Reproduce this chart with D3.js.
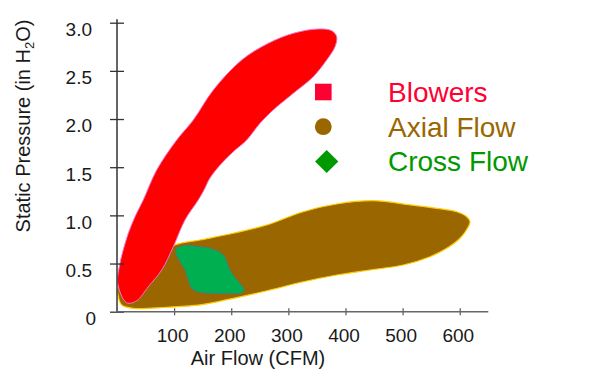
<!DOCTYPE html>
<html>
<head>
<meta charset="utf-8">
<script src="https://cdn.jsdelivr.net/npm/d3@7"></script>
<style>
    body { margin: 0; background: #fff; }
    text { font-family: "Liberation Sans", Arial, sans-serif; }
</style>
</head>
<body>
<svg id="chart" width="600" height="382"></svg>
<script>
// operating regions, [air flow CFM, static pressure inH2O]
const BLOWERS_OUTLINE = [
    [384.6, 2.855], [381.7, 2.751], [367.1, 2.613], [343.7, 2.440], [308.6, 2.267],
    [273.6, 2.094], [250.4, 1.956], [227.1, 1.782], [203.1, 1.658], [183.8, 1.544],
    [162.8, 1.388], [152.3, 1.263], [142.3, 1.160], [119.0, 0.952], [98.6, 0.675],
    [78.3, 0.433], [54.8, 0.260], [34.5, 0.114], [17.0, 0.093], [1.2, 0.295],
    [5.3, 0.502], [9.3, 0.606], [19.8, 0.814], [31.5, 0.986], [46.0, 1.160],
    [69.5, 1.471], [104.5, 1.782], [133.6, 1.990], [168.6, 2.301], [218.3, 2.613],
    [264.9, 2.786], [308.6, 2.890], [352.4, 2.935], [375.9, 2.917]
];
const AXIAL_OUTLINE = [
    [101.5, 0.692], [145.3, 0.744], [203.6, 0.814], [262.1, 0.900], [326.2, 1.038],
    [384.6, 1.118], [448.7, 1.152], [513.0, 1.108], [559.7, 1.073], [594.7, 1.038],
    [612.2, 0.986], [618.0, 0.934], [615.0, 0.882], [600.5, 0.762], [577.2, 0.658],
    [548.0, 0.571], [501.2, 0.485], [442.9, 0.433], [384.6, 0.381], [326.2, 0.311],
    [267.9, 0.225], [203.6, 0.139], [145.3, 0.070], [87.0, 0.046], [28.5, 0.035],
    [8.2, 0.070], [2.3, 0.156], [2.3, 0.260], [50, 0.5]
];
const CROSS_OUTLINE = [
    [104.5, 0.658], [116.1, 0.685], [145.3, 0.675], [168.6, 0.648], [186.1, 0.589],
    [192.1, 0.519], [197.8, 0.433], [212.4, 0.311], [222.3, 0.233], [218.3, 0.197],
    [192.1, 0.191], [145.3, 0.201], [130.8, 0.243], [124.8, 0.329], [119.0, 0.433],
    [110.3, 0.519], [103.3, 0.606]
];

const LEGEND_LABELS = ["Blowers", "Axial Flow", "Cross Flow"];
const LEGEND_COLORS = ["#ff0033", "#996600", "#009900"];
const X_TICKS = [100, 200, 300, 400, 500, 600];
const Y_TICKS = [0, 0.5, 1.0, 1.5, 2.0, 2.5, 3.0];

const svg = d3.select("#chart");

const x = d3.scaleLinear().domain([0, 650]).range([117, 488.3]);
const y = d3.scaleLinear().domain([0, 3]).range([311.7, 22.7]);

const outline = d3.line()
    .x(d => x(d[0]))
    .y(d => y(d[1]))
    .curve(d3.curveCatmullRomClosed.alpha(0.5));

// regions - brown first, red sits on top of it
svg.append("path")
    .attr("d", outline(AXIAL_OUTLINE))
    .attr("fill", "#996600")
    .attr("stroke", "#ffcc00")
    .attr("stroke-width", 1.2);

svg.append("path")
    .attr("d", outline(BLOWERS_OUTLINE))
    .attr("fill", "#ff0000")
    .attr("stroke", "#ee77cc")
    .attr("stroke-width", 1);

svg.append("path")
    .attr("d", outline(CROSS_OUTLINE))
    .attr("fill", "#00b050")
    .attr("stroke", "#3f8080")
    .attr("stroke-width", 1);

// y axis
let yAxis = svg.append("g")
    .attr("transform", "translate(" + x(0) + ",0)")
    .call(d3.axisLeft(y)
        .tickValues(Y_TICKS)
        .tickSize(7)
        .tickFormat(d => d === 0 ? "0" : d3.format(".1f")(d)));
yAxis.select(".domain").remove();
yAxis.selectAll(".tick line")
    .attr("x1", -7).attr("x2", 7)
    .attr("stroke", "#333").attr("stroke-width", 1.3);
yAxis.selectAll(".tick text")
    .attr("x", d => d === 0 ? -21 : -25).attr("dy", "0.68em")
    .attr("font-size", 19).attr("fill", "#1a1a1a")
    .style("font-family", "'Liberation Sans', Arial, sans-serif");

svg.append("line")
    .attr("x1", x(0)).attr("x2", x(0))
    .attr("y1", y(3) - 3.5).attr("y2", y(0))
    .attr("stroke", "#333").attr("stroke-width", 1.5);

// x axis
let xAxis = svg.append("g")
    .attr("transform", "translate(0," + y(0) + ")")
    .call(d3.axisBottom(x).tickValues(X_TICKS).tickSize(3.5));
xAxis.select(".domain").remove();
xAxis.selectAll(".tick line")
    .attr("y1", -3.5).attr("y2", 3.5)
    .attr("stroke", "#555").attr("stroke-width", 1.2);
xAxis.selectAll(".tick text")
    .attr("y", 17).attr("dx", -2)
    .attr("font-size", 19).attr("fill", "#1a1a1a")
    .style("font-family", "'Liberation Sans', Arial, sans-serif");

svg.append("line")
    .attr("x1", x(0)).attr("x2", x(650))
    .attr("y1", y(0)).attr("y2", y(0))
    .attr("stroke", "#666").attr("stroke-width", 1.5);

// axis titles
svg.append("text")
    .attr("x", 258).attr("y", 364.5)
    .attr("text-anchor", "middle")
    .attr("font-size", 20).attr("fill", "#1a1a1a")
    .text("Air Flow (CFM)");

let yTitle = svg.append("text")
    .attr("transform", "translate(30,126) rotate(-90)")
    .attr("text-anchor", "middle")
    .attr("font-size", 20).attr("fill", "#1a1a1a");
yTitle.append("tspan").text("Static Pressure (in H");
yTitle.append("tspan").attr("font-size", 13).attr("dy", 4).text("2");
yTitle.append("tspan").attr("dy", -4).text("O)");

// legend
const legendY = [92, 126.7, 161.5];

svg.append("rect")
    .attr("x", 315).attr("y", legendY[0] - 8.3)
    .attr("width", 16.6).attr("height", 16.6)
    .attr("fill", LEGEND_COLORS[0]);

svg.append("circle")
    .attr("cx", 323.3).attr("cy", legendY[1]).attr("r", 8.4)
    .attr("fill", LEGEND_COLORS[1]);

svg.append("path")
    .attr("d", d3.symbol().type(d3.symbolSquare).size(270)())
    .attr("transform", "translate(326.7," + legendY[2] + ") rotate(45)")
    .attr("fill", LEGEND_COLORS[2]);

svg.selectAll(".legend-label")
    .data(LEGEND_LABELS)
    .enter()
    .append("text")
    .attr("class", "legend-label")
    .attr("x", 388)
    .attr("y", (d, i) => legendY[i] + 9.8)
    .attr("font-size", 28)
    .attr("fill", (d, i) => LEGEND_COLORS[i])
    .text(d => d);
</script>
</body>
</html>
